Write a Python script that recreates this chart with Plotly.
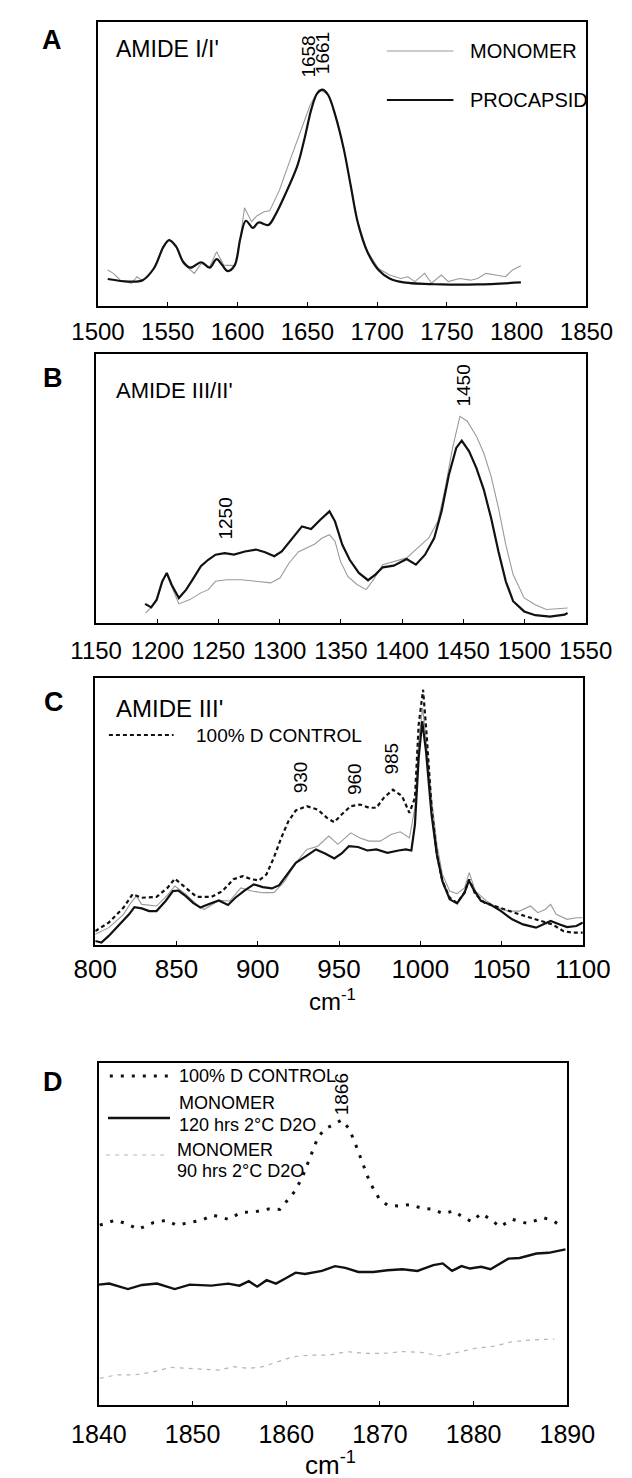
import plotly.graph_objects as go

W, H = 632, 1478

# ---------------- Panel A : AMIDE I/I' ----------------
a_proc_x = [1507, 1522, 1532, 1540, 1547, 1551, 1556, 1561, 1566, 1574, 1580, 1585, 1589, 1593, 1598,
            1602, 1606, 1611, 1615, 1622, 1627, 1635, 1643, 1648, 1653, 1657, 1661, 1665, 1670, 1676,
            1681, 1686, 1693, 1701, 1709, 1719, 1746, 1772, 1803]
a_proc_y = [9.5, 8.6, 9.1, 13.2, 20.9, 23.2, 20.9, 15.6, 13.5, 15.4, 13.5, 16.5, 14.4, 12.3, 14.4,
            23.8, 30.0, 27.5, 29.4, 28.5, 32.0, 40.2, 49.6, 59.0, 69.5, 74.8, 76.2, 74.2, 67.2, 55.5,
            42.6, 29.7, 19.1, 12.7, 9.7, 8.3, 7.6, 7.6, 8.3]
a_mono_x = [1507, 1511, 1516, 1524, 1528, 1532, 1540, 1547, 1551, 1556, 1561, 1569, 1574, 1580, 1585,
            1590, 1598, 1602, 1605, 1610, 1614, 1619, 1623, 1630, 1638, 1645, 1652, 1658, 1661, 1665,
            1670, 1676, 1681, 1686, 1693, 1701, 1709, 1717, 1722, 1727, 1734, 1739, 1746, 1751, 1759,
            1767, 1772, 1778, 1785, 1792, 1797, 1803]
a_mono_y = [12.7, 11.5, 9.1, 8.0, 10.3, 8.8, 13.2, 21.2, 23.4, 21.2, 15.0, 11.5, 15.0, 13.8, 19.1,
            14.4, 14.2, 23.8, 34.6, 29.7, 31.8, 33.2, 33.5, 40.8, 51.9, 61.3, 70.7, 76.0, 75.6, 74.4,
            67.4, 55.7, 42.8, 29.9, 19.3, 13.2, 10.9, 9.7, 10.3, 8.6, 11.5, 8.0, 10.9, 8.6, 9.7,
            9.1, 9.7, 11.5, 10.9, 10.3, 12.7, 14.2]
a_ticks = [1500, 1550, 1600, 1650, 1700, 1750, 1800, 1850]

# ---------------- Panel B : AMIDE III/II' ----------------
b_proc_x = [1190, 1195, 1199.5, 1204, 1207.7, 1211.6, 1217.6, 1223.6, 1229.6, 1235.6, 1241.6, 1247.6,
            1255.1, 1262.6, 1271.6, 1280.6, 1288.1, 1295.6, 1301.7, 1310.7, 1318.2, 1325.7, 1333.2,
            1340.7, 1345.2, 1351.2, 1357.2, 1364.7, 1372.2, 1378.2, 1384.2, 1393.2, 1403.8, 1411.3,
            1418.8, 1426.3, 1432.3, 1438.3, 1444.3, 1448.8, 1454.8, 1460.8, 1466.8, 1472.8, 1478.8,
            1484.8, 1490.8, 1499.8, 1508.9, 1520.9, 1532.9, 1535.3]
b_proc_y = [7.1, 5.8, 8.7, 15.5, 18.6, 14.3, 9.3, 12.4, 16.7, 21.1, 23.5, 25.4,
            26.0, 25.4, 26.6, 27.3, 26.3, 24.8, 26.6, 31.6, 35.9, 34.9, 38.4,
            41.5, 37.8, 29.1, 23.5, 18.6, 15.9, 18.0, 20.7, 21.3, 23.8, 21.7,
            25.4, 31.6, 41.5, 55.1, 65.1, 67.8, 63.8, 57.6, 49.6, 39.0, 26.6,
            15.5, 8.1, 4.3, 2.9, 2.4, 3.1, 3.7]
b_mono_x = [1190.5, 1199.5, 1204, 1207.7, 1211.6, 1217.6, 1226.6, 1235.6, 1241.6, 1247.6, 1256.6,
            1268.6, 1280.6, 1292.6, 1300.2, 1307.7, 1315.2, 1322.7, 1328.7, 1334.7, 1340.7, 1345.2,
            1349.7, 1355.7, 1363.2, 1370.7, 1376.7, 1384.2, 1393.2, 1403.8, 1412.8, 1421.8, 1429.3,
            1435.3, 1441.3, 1447.3, 1453.3, 1460.8, 1466.8, 1472.8, 1478.8, 1484.8, 1490.8, 1499.8,
            1508.9, 1517.9, 1526.9, 1535.3]
b_mono_y = [3.7, 8.1, 14.9, 18.6, 13.6, 7.1, 8.7, 11.2, 12.4, 15.5, 16.1,
            16.1, 15.5, 14.9, 16.7, 22.3, 26.4, 27.9, 29.4, 31.6, 32.8, 30.4,
            22.9, 17.3, 14.3, 12.4, 16.1, 21.7, 22.9, 24.2, 27.9, 31.6, 37.8,
            50.2, 65.1, 76.8, 75.0, 69.4, 63.2, 54.5, 42.8, 29.1, 18.0, 9.3,
            6.8, 5.0, 5.3, 5.6]
b_ticks = [1150, 1200, 1250, 1300, 1350, 1400, 1450, 1500, 1550]

# ---------------- Panel C : AMIDE III' ----------------
c_proc_x = [800, 803.8, 808.3, 815.1, 820.8, 824.1, 828.6, 833.2, 837.7, 843.3, 847.8, 851.2, 855.7,
            860.2, 864.7, 869.3, 876.0, 881.7, 886.2, 891.8, 897.5, 903.1, 908.7, 913.2, 917.8, 923.4,
            930.2, 935.8, 941.4, 947.1, 951.6, 956.1, 961.7, 967.4, 973.0, 979.8, 986.6, 991.1, 994.5,
            996.7, 999.0, 1001.2, 1003.5, 1006.9, 1010.2, 1013.6, 1018.1, 1022.6, 1027.2, 1029.9,
            1032.8, 1037.3, 1042.9, 1049.7, 1056.5, 1063.2, 1071.2, 1075.7, 1080.2, 1085.8, 1090.3,
            1096.0, 1100]
c_proc_y = [1.5, 0.9, 3.4, 7.7, 11.5, 14.2, 13.7, 12.7, 12.7, 16.5, 20.2, 20.4, 18.3,
            15.8, 14.0, 15.2, 16.7, 15.0, 17.7, 20.4, 22.7, 21.7, 21.2, 22.4, 26.4, 30.8,
            33.5, 35.8, 34.3, 32.4, 34.3, 37.0, 36.7, 35.4, 35.8, 34.5, 35.4, 35.8, 35.4,
            45.1, 70.1, 83.8, 72.6, 48.9, 33.9, 23.9, 17.1, 15.6, 19.6, 24.2,
            20.8, 16.5, 15.2, 12.7, 9.6, 7.7, 6.5, 7.7, 9.0, 7.7, 6.7,
            7.1, 8.4]
c_ctrl_x = [800, 808.3, 817.4, 823.0, 828.6, 837.7, 844.4, 849.0, 855.7, 862.5, 871.5, 878.3, 885.0,
            890.7, 896.3, 900.8, 905.3, 909.9, 914.4, 918.9, 923.4, 930.2, 936.9, 942.6, 947.1, 951.6,
            957.2, 962.9, 968.5, 973.0, 977.5, 983.2, 988.8, 993.3, 996.7, 999.0, 1001.7, 1003.9,
            1006.9, 1010.2, 1013.6, 1018.1, 1022.6, 1027.2, 1030.1, 1033.9, 1039.6, 1045.2, 1054.2,
            1061.0, 1067.8, 1074.5, 1081.3, 1088.1, 1093.7, 1100]
c_ctrl_y = [5.2, 8.4, 14.0, 19.0, 17.7, 18.0, 21.4, 24.8, 21.4, 18.0, 18.0, 20.2, 24.6,
            25.8, 24.6, 24.2, 26.4, 32.7, 40.1, 46.4, 50.4, 52.0, 50.7, 47.6, 46.0, 48.9,
            52.0, 52.6, 51.4, 51.4, 55.1, 58.2, 55.7, 49.5, 55.1, 82.5, 95.6, 78.8,
            51.4, 33.9, 23.9, 17.7, 15.8, 19.6, 24.6, 19.0, 15.8, 14.6, 12.7,
            11.5, 10.2, 9.0, 7.7, 5.2, 4.6, 4.6]
c_mono_x = [800, 808.3, 817.4, 821.9, 825.3, 828.6, 837.7, 844.4, 849.0, 855.7, 862.5, 867.0, 876.0,
            882.8, 889.6, 896.3, 903.1, 909.9, 916.6, 923.4, 930.2, 936.9, 943.7, 949.3, 953.8, 957.2,
            962.9, 968.5, 975.3, 982.0, 987.7, 993.3, 996.7, 999.0, 1001.4, 1003.7, 1006.9, 1010.2,
            1013.6, 1018.1, 1022.6, 1027.2, 1030.1, 1033.9, 1040.7, 1047.5, 1054.2, 1061.0, 1067.8,
            1072.3, 1076.8, 1080.2, 1083.6, 1090.3, 1096.0, 1100]
c_mono_y = [4.0, 6.5, 11.5, 15.8, 18.3, 15.2, 14.6, 18.7, 22.1, 19.0, 15.2, 13.3, 16.7,
            16.5, 21.4, 20.2, 19.6, 19.6, 23.9, 30.8, 35.8, 37.0, 40.8, 37.7, 40.1, 42.0,
            40.1, 38.9, 38.9, 41.4, 42.4, 40.1, 51.4, 76.3, 88.8, 76.3, 55.1, 37.7,
            26.4, 20.2, 19.2, 21.4, 27.1, 20.2, 16.5, 14.0, 12.7, 12.7, 14.6,
            12.1, 13.3, 15.2, 11.5, 9.6, 10.2, 10.2]
c_ticks = [800, 850, 900, 950, 1000, 1050, 1100]

# ---------------- Panel D ----------------
d_ctrl_x = [1840.1, 1841.7, 1842.9, 1844.2, 1845.8, 1847.2, 1848.3, 1849.7, 1850.9, 1852.2, 1853.8,
            1855.2, 1856.7, 1858.1, 1859.3, 1860.3, 1861.0, 1861.8, 1862.6, 1863.4, 1864.2, 1865.2,
            1865.9, 1866.7, 1867.3, 1868.1, 1868.9, 1869.9, 1870.8, 1872.0, 1873.2, 1874.4, 1875.7,
            1876.7, 1877.9, 1878.8, 1879.8, 1880.8, 1881.8, 1882.8, 1884.1, 1885.7, 1887.5, 1888.4,
            1889.2]
d_ctrl_y = [52.6, 54.0, 53.1, 51.4, 53.3, 54.0, 52.6, 53.3, 54.0, 55.5, 54.3,
            56.3, 56.5, 57.3, 57.2, 60.4, 62.8, 67.2, 73.0, 78.4, 80.8, 82.3,
            83.3, 80.8, 76.9, 71.1, 65.2, 60.4, 58.4, 58.2, 58.6, 57.6, 57.2,
            56.0, 56.7, 55.0, 53.6, 56.0, 54.3, 52.1, 54.3, 53.1, 54.7, 54.0,
            52.6]
d_120_x = [1840.0, 1841.1, 1843.1, 1844.6, 1846.2, 1848.1, 1849.7, 1852.0, 1853.8, 1855.0, 1856.0,
           1856.9, 1857.9, 1858.9, 1859.9, 1861.0, 1862.0, 1863.8, 1865.2, 1866.3, 1867.7, 1869.3,
           1870.8, 1872.4, 1874.0, 1874.7, 1875.7, 1876.7, 1877.7, 1878.7, 1879.6, 1880.8, 1881.8,
           1883.7, 1884.9, 1886.7, 1888.0, 1889.8]
d_120_y = [35.2, 35.5, 33.9, 35.1, 35.5, 33.9, 35.2, 34.9, 35.5, 34.9, 36.2,
           34.6, 36.5, 35.5, 37.0, 38.7, 38.3, 39.2, 40.6, 40.1, 38.9, 38.9,
           39.4, 39.7, 39.2, 39.9, 40.9, 41.4, 39.2, 40.6, 39.9, 40.4, 39.7,
           42.8, 43.0, 44.3, 44.5, 45.5]
d_90_x = [1840.1, 1841.9, 1843.8, 1845.8, 1847.7, 1849.7, 1851.7, 1852.8, 1854.4, 1856.0, 1857.5,
          1859.1, 1860.7, 1862.6, 1864.6, 1866.5, 1868.5, 1870.4, 1872.4, 1874.4, 1876.3, 1878.3,
          1880.2, 1882.2, 1884.1, 1886.1, 1888.6]
d_90_y = [7.8, 8.8, 8.8, 9.7, 11.0, 10.7, 10.2, 10.2, 11.2, 10.7, 11.2,
          12.7, 14.1, 14.6, 14.6, 15.6, 15.1, 15.1, 15.6, 15.4, 14.4, 15.4,
          16.6, 17.2, 18.5, 19.0, 19.3]
d_ticks = [1840, 1850, 1860, 1870, 1880, 1890]

# ---------------- helpers (layout only) ----------------
def px(x):
    return x / W

def py(y):
    return 1 - y / H

FONT = "Liberation Sans, Arial, Helvetica, sans-serif"
BLACK = "#111111"
GRAY = "#9a9a9a"

fig = go.Figure()

def line(x, y, ax, color, width, dash="solid", shape="linear"):
    fig.add_trace(go.Scatter(x=x, y=y, mode="lines", xaxis="x" + ax, yaxis="y" + ax,
                             line=dict(color=color, width=width, dash=dash, shape=shape),
                             showlegend=False, hoverinfo="skip"))

# A
line(a_mono_x, a_mono_y, "", GRAY, 1.1)
line(a_proc_x, a_proc_y, "", BLACK, 2.2, shape="spline")
# B
line(b_mono_x, b_mono_y, "2", GRAY, 1.1)
line(b_proc_x, b_proc_y, "2", BLACK, 2.2)
# C
line(c_mono_x, c_mono_y, "3", GRAY, 1.1)
line(c_ctrl_x, c_ctrl_y, "3", BLACK, 2.2, dash="4px,3px")
line(c_proc_x, c_proc_y, "3", BLACK, 2.2)
# D
line(d_90_x, d_90_y, "4", "#b5b5b5", 1.2, dash="4px,5px")
line(d_120_x, d_120_y, "4", BLACK, 2.4)
line(d_ctrl_x, d_ctrl_y, "4", BLACK, 3, dash="3px,8px")

# axis boxes (pixel positions): x-span, y-span, ticks, tick font size, label standoff
boxes = {
    "": ((68, 604), (14, 298), a_ticks, 24, 3),
    "2": ((66, 603), (346, 615), b_ticks, 24, 5),
    "3": ((65, 600), (670, 937), c_ticks, 26, 0),
    "4": ((69, 583), (1055, 1397), d_ticks, 25, 6),
}
layout = dict(width=W, height=H, margin=dict(l=0, r=0, t=0, b=0),
              paper_bgcolor="white", plot_bgcolor="white",
              font=dict(family=FONT, color="black"))
for ax, ((x0, x1), (y0, y1), ticks, fs, so) in boxes.items():
    layout["xaxis" + ax] = dict(domain=[px(x0), px(x1)], range=[ticks[0], ticks[-1]],
                                tickvals=ticks, ticktext=[str(t) for t in ticks],
                                showline=True, mirror=True, linecolor="black", linewidth=1.5,
                                ticks="inside", ticklen=4, tickcolor="black", showgrid=False,
                                zeroline=False, tickfont=dict(size=fs, family=FONT, color="black"),
                                ticklabelstandoff=so, anchor="y" + ax)
    layout["yaxis" + ax] = dict(domain=[py(y1), py(y0)], range=[0, 100], showline=True,
                                mirror=True, linecolor="black", linewidth=1.5, ticks="",
                                showticklabels=False, showgrid=False, zeroline=False,
                                anchor="x" + ax)
fig.update_layout(**layout)

ann = []
def text(x, y, s, size, xanchor="left", bold=False, angle=0):
    ann.append(dict(x=px(x), y=py(y), xref="paper", yref="paper", text=("<b>%s</b>" % s) if bold else s,
                    showarrow=False, xanchor=xanchor, yanchor="middle", textangle=angle,
                    font=dict(size=size, family=FONT, color="black")))

shapes = []
def sample(x0, x1, y, color, width, dash="solid"):
    shapes.append(dict(type="line", xref="paper", yref="paper", x0=px(x0), x1=px(x1),
                       y0=py(y), y1=py(y), line=dict(color=color, width=width, dash=dash)))

# panel letters
text(18, 32, "A", 27, "center", bold=True)
text(19, 370, "B", 27, "center", bold=True)
text(20, 694, "C", 27, "center", bold=True)
text(19, 1074, "D", 27, "center", bold=True)

# A
text(86, 41, "AMIDE I/I'", 23)
sample(385, 458, 43, GRAY, 1.1)
text(474, 43, "MONOMER", 20)
sample(385, 458, 92, BLACK, 2.2)
text(474, 92, "PROCAPSID", 20)
text(298, 49, "1658", 19, "center", angle=-90)
text(314, 45, "1661", 19, "center", angle=-90)

# B
text(86, 382, "AMIDE III/II'", 22)
text(468, 378, "1450", 19, "center", angle=-90)
text(208, 511, "1250", 19, "center", angle=-90)

# C
text(86, 700, "AMIDE III'", 24)
sample(80, 151, 727, BLACK, 2, "4px,3px")
text(173, 727, "100% D CONTROL", 19)
text(290, 769, "930", 19, "center", angle=-90)
text(349, 771, "960", 19, "center", angle=-90)
text(389, 751, "985", 19, "center", angle=-90)
text(325, 992, "cm<sup>-1</sup>", 24, "center")

# D
sample(81, 145, 1068, BLACK, 3, "3px,8px")
text(155, 1068, "100% D CONTROL", 18)
sample(79, 147, 1110, BLACK, 2.4)
text(155, 1095, "MONOMER", 18)
text(155, 1117, "120 hrs 2°C D2O", 18)
sample(77, 143, 1147, "#b5b5b5", 1.2, "4px,5px")
text(153, 1142, "MONOMER", 18)
text(153, 1163, "90 hrs 2°C D2O", 18)
text(335, 1086, "1866", 19, "center", angle=-90)
text(323, 1455, "cm<sup>-1</sup>", 26, "center")

fig.update_layout(annotations=ann, shapes=shapes)
fig.write_html("out.html")
